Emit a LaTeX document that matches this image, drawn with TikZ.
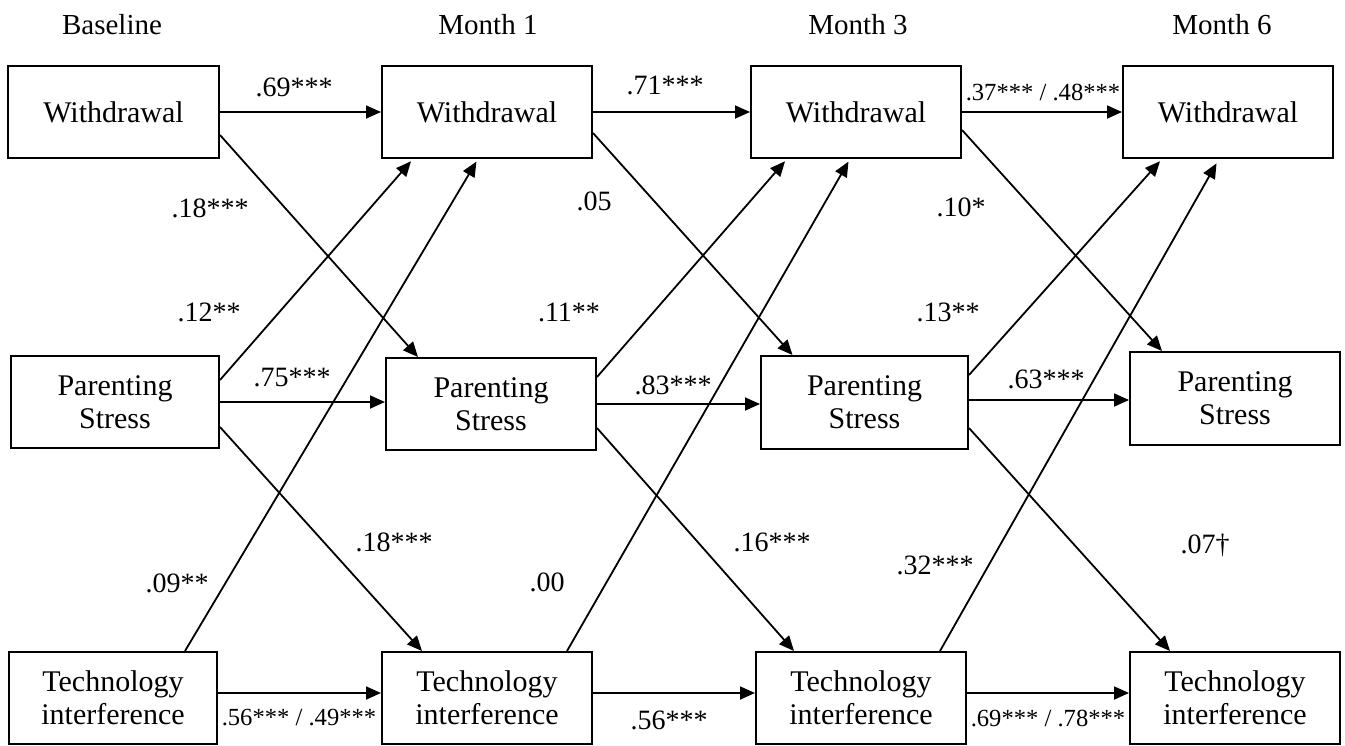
\documentclass[tikz,border=0pt]{standalone}
\usepackage{fontspec}
\setmainfont{Liberation Serif}
\usetikzlibrary{arrows.meta}
\begin{document}
\begin{tikzpicture}[x=0.5pt,y=-0.5pt,
 box/.style={draw,line width=1pt,minimum width=105pt,minimum height=46pt,inner sep=0pt,align=center,font=\fontsize{15}{16.5}\selectfont},
 hdr/.style={font=\fontsize{14.5}{17}\selectfont,inner sep=0pt},
 coef/.style={font=\fontsize{14}{16}\selectfont,inner sep=0pt},
 coefs/.style={font=\fontsize{12.3}{14}\selectfont,inner sep=0pt},
 arr/.style={line width=0.9pt,-{Triangle[length=7.5pt,width=6.5pt]}}]
\useasboundingbox (0,0) rectangle (1345,745);
% headers
\node[hdr] (h0) at (112,25) {Baseline};
\node[hdr] (h1) at (488,25) {Month 1};
\node[hdr] (h3) at (858,25) {Month 3};
\node[hdr] (h6) at (1222,25) {Month 6};
% boxes
\node[box,minimum width=105.5pt] (bW) at (113.5,112) {Withdrawal};
\node[box,minimum width=104pt] (bP) at (115,402) {Parenting\\Stress};
\node[box,minimum width=104pt] (bT) at (113,698) {Technology\\interference};
\node[box] (m1W) at (487,112) {Withdrawal};
\node[box] (m1P) at (491,404) {Parenting\\Stress};
\node[box] (m1T) at (487,698) {Technology\\interference};
\node[box] (m3W) at (856,112) {Withdrawal};
\node[box,minimum width=103.5pt,minimum height=46.5pt] (m3P) at (864.5,402.5) {Parenting\\Stress};
\node[box] (m3T) at (861,698) {Technology\\interference};
\node[box] (m6W) at (1228,112) {Withdrawal};
\node[box,minimum height=46.5pt] (m6P) at (1235,398.5) {Parenting\\Stress};
\node[box] (m6T) at (1235,698) {Technology\\interference};
% horizontal paths
\draw[arr] (bW.east) -- (m1W.west);
\draw[arr] (bP.east) -- (bP.east -| m1P.west);
\draw[arr] ([yshift=2.5pt]bT.east) -- ([yshift=2.5pt]m1T.west);
\draw[arr] (m1W.east) -- (m3W.west);
\draw[arr] (m1P.east) -- (m1P.east -| m3P.west);
\draw[arr] ([yshift=2.5pt]m1T.east) -- ([yshift=2.5pt]m3T.west);
\draw[arr] (m3W.east) -- (m6W.west);
\draw[arr] ([yshift=1.25pt]m3P.east) -- ([yshift=1.25pt]m3P.east -| m6P.west);
\draw[arr] ([yshift=2.5pt]m3T.east) -- ([yshift=2.5pt]m6T.west);
% cross-lagged paths
\draw[arr] ([yshift=-11.5pt]bW.east) -- ([xshift=-36.5pt]m1P.north);
\draw[arr,shorten >=1.5pt] ([yshift=11pt]bP.east) -- ([xshift=-37pt]m1W.south);
\draw[arr] ([yshift=-12.5pt]bP.east) -- ([xshift=-32.5pt]m1T.north);
\draw[arr,shorten >=1.5pt] ([xshift=36pt]bT.north) -- ([xshift=-4.5pt]m1W.south);
\draw[arr] ([yshift=-10.5pt]m1W.east) -- ([xshift=-36pt]m3P.north);
\draw[arr,shorten >=1.5pt] ([yshift=13.5pt]m1P.east) -- ([xshift=-34.5pt]m3W.south);
\draw[arr] ([yshift=-12pt]m1P.east) -- ([xshift=-33.5pt]m3T.north);
\draw[arr,shorten >=1.5pt] ([xshift=40pt]m1T.north) -- ([xshift=-3pt]m3W.south);
\draw[arr] ([yshift=-9pt]m3W.east) -- ([xshift=-36.5pt]m6P.north);
\draw[arr,shorten >=1.5pt] ([yshift=13.75pt]m3P.east) -- ([xshift=-33pt]m6W.south);
\draw[arr] ([yshift=-12.75pt]m3P.east) -- ([xshift=-32.5pt]m6T.north);
\draw[arr,shorten >=2.5pt] ([xshift=39.5pt]m3T.north) -- ([xshift=-4.5pt]m6W.south);
% coefficients
\node[coef] (c1) at (294,87) {.69***};
\node[coef] (c2) at (210,208) {.18***};
\node[coef] (c3) at (209,312) {.12**};
\node[coef] (c4) at (292,378) {.75***};
\node[coef] (c5) at (394,542) {.18***};
\node[coef] (c6) at (177,583) {.09**};
\node[coefs] (c7) at (299,718) {.56*** / .49***};
\node[coef] (c8) at (665,85) {.71***};
\node[coef] (c9) at (594,201) {.05};
\node[coef] (c10) at (569,312) {.11**};
\node[coef] (c11) at (673,385) {.83***};
\node[coef] (c12) at (772,542) {.16***};
\node[coef] (c13) at (547,582) {.00};
\node[coef] (c14) at (669,720) {.56***};
\node[coefs] (c15) at (1043,92) {.37*** / .48***};
\node[coef] (c16) at (961,207) {.10*};
\node[coef] (c17) at (948,312) {.13**};
\node[coef] (c18) at (1046,379) {.63***};
\node[coef] (c19) at (1205,545) {.07†};
\node[coef] (c20) at (935,565) {.32***};
\node[coefs] (c21) at (1048,718) {.69*** / .78***};
\end{tikzpicture}
\end{document}
